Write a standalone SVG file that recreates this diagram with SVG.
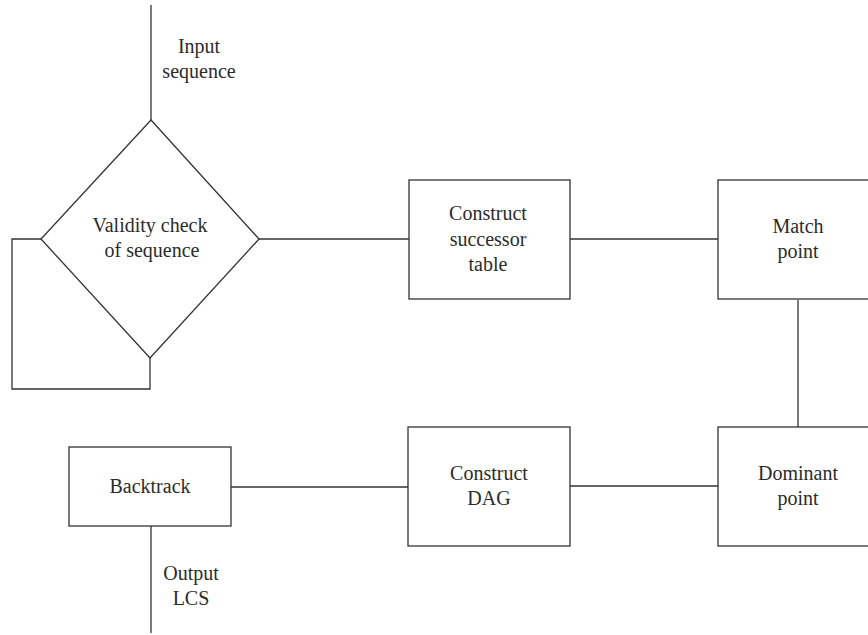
<svg xmlns="http://www.w3.org/2000/svg" width="868" height="635" viewBox="0 0 868 635">
  <style>
    .shape { fill: #ffffff; stroke: #333333; stroke-width: 1.3; }
    .wire { fill: none; stroke: #333333; stroke-width: 1.3; }
    .label { font-family: "Liberation Serif", "Times New Roman", serif; font-size: 20px; fill: #2b2b2b; text-anchor: middle; }
  </style>
  <rect width="868" height="635" fill="#ffffff"/>

  <!-- connectors -->
  <g id="connectors">
    <line class="wire" x1="151" y1="5" x2="151" y2="120"/>
    <polyline class="wire" points="41,239 12,239 12,389 150,389 150,358"/>
    <line class="wire" x1="259" y1="239" x2="409" y2="239"/>
    <line class="wire" x1="570" y1="239" x2="718" y2="239"/>
    <line class="wire" x1="798" y1="300" x2="798" y2="427"/>
    <line class="wire" x1="570" y1="486" x2="718" y2="486"/>
    <line class="wire" x1="231" y1="487" x2="408" y2="487"/>
    <line class="wire" x1="151" y1="526" x2="151" y2="633"/>
  </g>

  <!-- edge labels -->
  <g id="input-label">
    <text class="label" x="199" y="53">Input</text>
    <text class="label" x="199" y="78">sequence</text>
  </g>
  <g id="output-label">
    <text class="label" x="191" y="580">Output</text>
    <text class="label" x="191" y="605">LCS</text>
  </g>

  <!-- nodes -->
  <g id="validity-check">
    <polygon class="shape" points="151,120 259,239 150,358 41,239"/>
    <text class="label" x="150" y="232">Validity check</text>
    <text class="label" x="152" y="257">of sequence</text>
  </g>
  <g id="successor-table">
    <rect class="shape" x="409" y="180" width="161" height="119"/>
    <text class="label" x="488" y="220">Construct</text>
    <text class="label" x="488" y="246">successor</text>
    <text class="label" x="488" y="271">table</text>
  </g>
  <g id="match-point">
    <rect class="shape" x="718" y="180" width="160" height="119"/>
    <text class="label" x="798" y="233">Match</text>
    <text class="label" x="798" y="258">point</text>
  </g>
  <g id="dominant-point">
    <rect class="shape" x="718" y="427" width="160" height="119"/>
    <text class="label" x="798" y="480">Dominant</text>
    <text class="label" x="798" y="505">point</text>
  </g>
  <g id="construct-dag">
    <rect class="shape" x="408" y="427" width="162" height="119"/>
    <text class="label" x="489" y="480">Construct</text>
    <text class="label" x="489" y="505">DAG</text>
  </g>
  <g id="backtrack">
    <rect class="shape" x="69" y="447" width="162" height="79"/>
    <text class="label" x="150" y="493">Backtrack</text>
  </g>
</svg>
